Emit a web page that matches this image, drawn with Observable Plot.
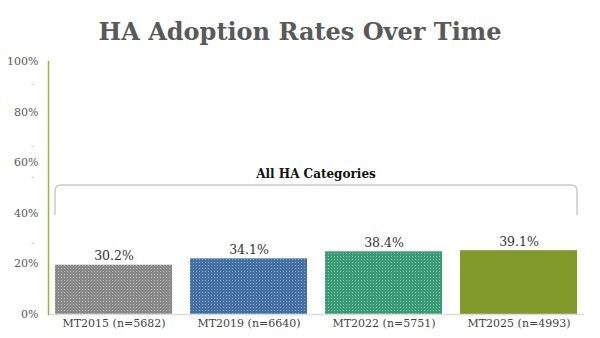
<!DOCTYPE html>
<html>
<head>
<meta charset="utf-8">
<script src="https://cdn.jsdelivr.net/npm/d3@7"></script>
<script src="https://cdn.jsdelivr.net/npm/@observablehq/plot@0.6"></script>
<style>
  html, body { margin: 0; padding: 0; background: #fff; }
  #title { height: 32px; padding-top: 16px; line-height: 32px; text-align: center;
           font-family: "DejaVu Serif", serif; font-weight: bold; font-size: 24px; color: #595959; }
  #chart svg { display: block; }
</style>
</head>
<body>
<div id="title">HA Adoption Rates Over Time</div>
<div id="chart"></div>
<script>
// ---- data ----
const categories = ["MT2015 (n=5682)", "MT2019 (n=6640)", "MT2022 (n=5751)", "MT2025 (n=4993)"];
const values = [30.2, 34.1, 38.4, 39.1];
const axisLabels = ["0%", "20%", "40%", "60%", "80%", "100%"];
const minorTicks = [141, 122, 103, 84, 43.5];
const groupLabel = "All HA Categories";
const bracketTop = 79;
const bracketBottom = 60.7;
const labelLevel = 85.8;
const yMax = 155;

// ---- styles ----
const barBase = ["#898989", "#4470a4", "#3a9a76", "#82992b"];
const barDot = ["#b9b9b9", "#86a4c9", "#82c4a8", "#82992b"];
const barFills = categories.map((c, i) => `url(#pat${i})`);
const serif = "DejaVu Serif, serif";

const rows = categories.map((c, i) => ({category: c, value: values[i]}));
const axisTickValues = axisLabels.map((l, i) => i / (axisLabels.length - 1) * yMax);

const chart = Plot.plot({
  width: 600,
  height: 290,
  marginTop: 13,
  marginBottom: 24,
  marginLeft: 48,
  marginRight: 16,
  style: {fontFamily: serif, background: "transparent"},
  x: {domain: categories, paddingInner: 0.133, paddingOuter: 0.045, axis: null},
  y: {domain: [0, yMax], axis: null},
  color: {domain: categories, range: barFills},
  marks: [
    Plot.barY(rows, {x: "category", y: "value", fill: "category"}),
    Plot.ruleY([0], {stroke: "#dcdcdc", strokeWidth: 1.5}),
    Plot.frame({anchor: "left", stroke: "#9fb23d", strokeWidth: 1.5}),
    Plot.axisY({ticks: axisTickValues, tickFormat: (d, i) => axisLabels[i], tickSize: 0, tickPadding: 10,
                fontSize: 11, fill: "#595959", label: null}),
    Plot.axisY({ticks: minorTicks, tickFormat: null, text: null, tickSize: 2.5, dx: -14,
                stroke: "#cdd89f", label: null}),
    Plot.axisX({tickSize: 0, tickPadding: 5, fontSize: 11, fill: "#444", label: null}),
    Plot.text(rows, {x: "category", y: "value", text: d => d.value.toFixed(1) + "%",
                     lineAnchor: "bottom", dy: -5, fontSize: 12.5, fill: "#333"})
  ]
});

// patterns
const svg = d3.select(chart);
const defs = svg.insert("defs", ":first-child");
categories.forEach((c, i) => {
  const p = defs.append("pattern").attr("id", `pat${i}`).attr("patternUnits", "userSpaceOnUse")
    .attr("width", 3).attr("height", 3);
  p.append("rect").attr("width", 3).attr("height", 3).attr("fill", barBase[i]);
  p.append("rect").attr("x", 1).attr("y", 1).attr("width", 1).attr("height", 1).attr("fill", barDot[i]);
});

// bracket annotation through the plot's scales
const xs = chart.scale("x"), ys = chart.scale("y");
const bw = xs.bandwidth;
const bLeft = xs.apply(categories[0]);
const bRight = xs.apply(categories[categories.length - 1]) + bw;
const bTop = ys.apply(bracketTop), bBottom = ys.apply(bracketBottom);
const rad = 6;
svg.append("path")
  .attr("d", `M${bLeft},${bBottom} V${bTop + rad} Q${bLeft},${bTop} ${bLeft + rad},${bTop} H${bRight - rad} Q${bRight},${bTop} ${bRight},${bTop + rad} V${bBottom}`)
  .attr("fill", "none").attr("stroke", "#cacaca").attr("stroke-width", 1.5);
svg.append("text")
  .attr("x", (bLeft + bRight) / 2).attr("y", ys.apply(labelLevel)).attr("dy", "0.35em")
  .attr("text-anchor", "middle").attr("font-family", serif).attr("font-weight", "bold")
  .attr("font-size", 12).attr("fill", "#111").text(groupLabel);

document.getElementById("chart").appendChild(chart);
</script>
</body>
</html>
